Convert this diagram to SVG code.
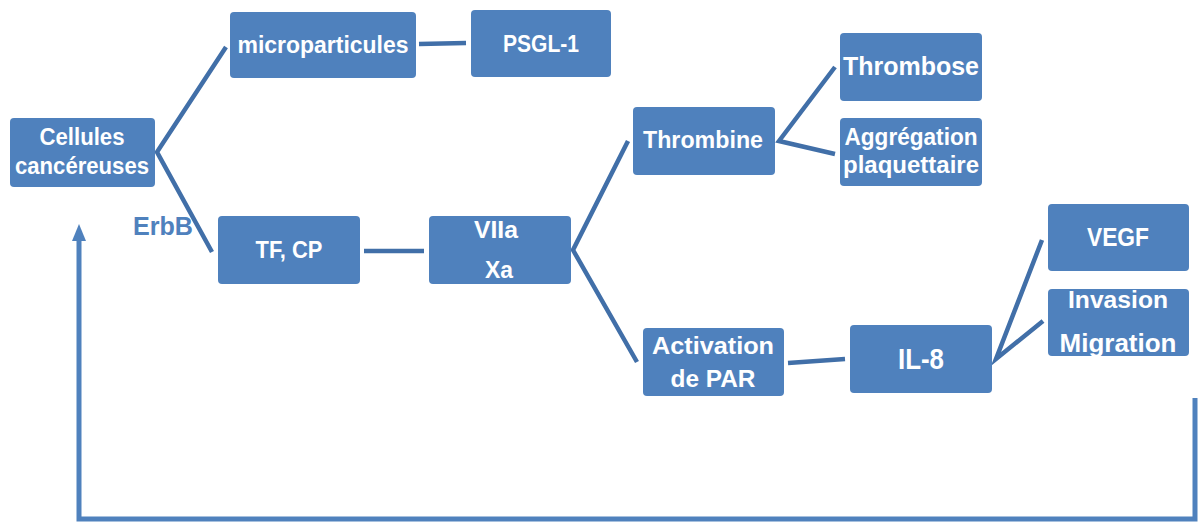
<svg xmlns="http://www.w3.org/2000/svg" width="1198" height="523" viewBox="0 0 1198 523">
<style>
.box{fill:#4F81BD;}
.t{font-family:"Liberation Sans",Arial,sans-serif;font-weight:bold;fill:#FFFFFF;text-anchor:middle;}
.c{fill:none;stroke:#416FA8;stroke-width:4.5;stroke-linejoin:miter;}
.loop{fill:none;stroke:#4F81BD;stroke-width:5;}
.lbl{font-family:"Liberation Sans",Arial,sans-serif;font-weight:bold;fill:#4F81BD;}
</style>
<rect width="1198" height="523" fill="#FFFFFF"/>
<g id="connectors">
<polyline class="c" points="226,47 157,152 212,252"/>
<line class="c" x1="419" y1="44" x2="466" y2="43"/>
<line class="c" x1="364" y1="251" x2="424" y2="251"/>
<polyline class="c" points="628,141 573,250 637,362"/>
<polyline class="c" points="835,67 779,141 835,154"/>
<line class="c" x1="788" y1="363" x2="845" y2="359"/>
<polyline class="c" points="1042,240 996,359 1043,321"/>
<polyline class="loop" points="1195,398 1195,519 79,519 79,240"/>
<path d="M72,241 L79,224 L86,241 Z" fill="#4F81BD"/>
</g>
<g id="cellules">
<rect class="box" x="10" y="118" width="145" height="69" rx="4"/>
<text class="t" x="82" y="145" font-size="23.5" textLength="85" lengthAdjust="spacingAndGlyphs">Cellules</text>
<text class="t" x="82" y="174" font-size="23.5" textLength="134" lengthAdjust="spacingAndGlyphs">cancéreuses</text>
</g>
<g id="microparticules">
<rect class="box" x="230" y="12" width="186" height="66" rx="4"/>
<text class="t" x="323" y="53" font-size="23" textLength="171" lengthAdjust="spacingAndGlyphs">microparticules</text>
</g>
<g id="psgl1">
<rect class="box" x="471" y="10" width="140" height="67" rx="4"/>
<text class="t" x="541" y="52" font-size="23.5" textLength="76" lengthAdjust="spacingAndGlyphs">PSGL-1</text>
</g>
<g id="tfcp">
<rect class="box" x="218" y="216" width="142" height="68" rx="4"/>
<text class="t" x="289" y="258" font-size="23.5" textLength="67" lengthAdjust="spacingAndGlyphs">TF, CP</text>
</g>
<g id="viia-xa">
<rect class="box" x="429" y="216" width="142" height="68" rx="4"/>
<text class="t" x="496" y="238" font-size="23" textLength="44" lengthAdjust="spacingAndGlyphs">VIIa</text>
<text class="t" x="499" y="278" font-size="23" textLength="28" lengthAdjust="spacingAndGlyphs">Xa</text>
</g>
<g id="thrombine">
<rect class="box" x="633" y="107" width="142" height="68" rx="4"/>
<text class="t" x="703" y="148" font-size="23" textLength="120" lengthAdjust="spacingAndGlyphs">Thrombine</text>
</g>
<g id="thrombose">
<rect class="box" x="840" y="33" width="142" height="68" rx="4"/>
<text class="t" x="911" y="75" font-size="25" textLength="136" lengthAdjust="spacingAndGlyphs">Thrombose</text>
</g>
<g id="aggregation">
<rect class="box" x="840" y="118" width="142" height="68" rx="4"/>
<text class="t" x="911" y="145" font-size="24" textLength="133" lengthAdjust="spacingAndGlyphs">Aggrégation</text>
<text class="t" x="911" y="173" font-size="24" textLength="136" lengthAdjust="spacingAndGlyphs">plaquettaire</text>
</g>
<g id="activation-par">
<rect class="box" x="643" y="328" width="141" height="68" rx="4"/>
<text class="t" x="713" y="354" font-size="24.5" textLength="122" lengthAdjust="spacingAndGlyphs">Activation</text>
<text class="t" x="713" y="387" font-size="24.5" textLength="85" lengthAdjust="spacingAndGlyphs">de PAR</text>
</g>
<g id="il8">
<rect class="box" x="850" y="325" width="142" height="68" rx="4"/>
<text class="t" x="921" y="369" font-size="30" textLength="46" lengthAdjust="spacingAndGlyphs">IL-8</text>
</g>
<g id="vegf">
<rect class="box" x="1048" y="204" width="141" height="67" rx="4"/>
<text class="t" x="1118" y="246" font-size="25" textLength="62" lengthAdjust="spacingAndGlyphs">VEGF</text>
</g>
<g id="invasion-migration">
<rect class="box" x="1048" y="289" width="141" height="67" rx="4"/>
<text class="t" x="1118" y="308" font-size="23.5" textLength="100" lengthAdjust="spacingAndGlyphs">Invasion</text>
<text class="t" x="1118" y="352" font-size="26" textLength="117" lengthAdjust="spacingAndGlyphs">Migration</text>
</g>
<g id="erbb-label">
<text class="lbl" x="133" y="235" font-size="26.5" textLength="60" lengthAdjust="spacingAndGlyphs">ErbB</text>
</g>
</svg>
